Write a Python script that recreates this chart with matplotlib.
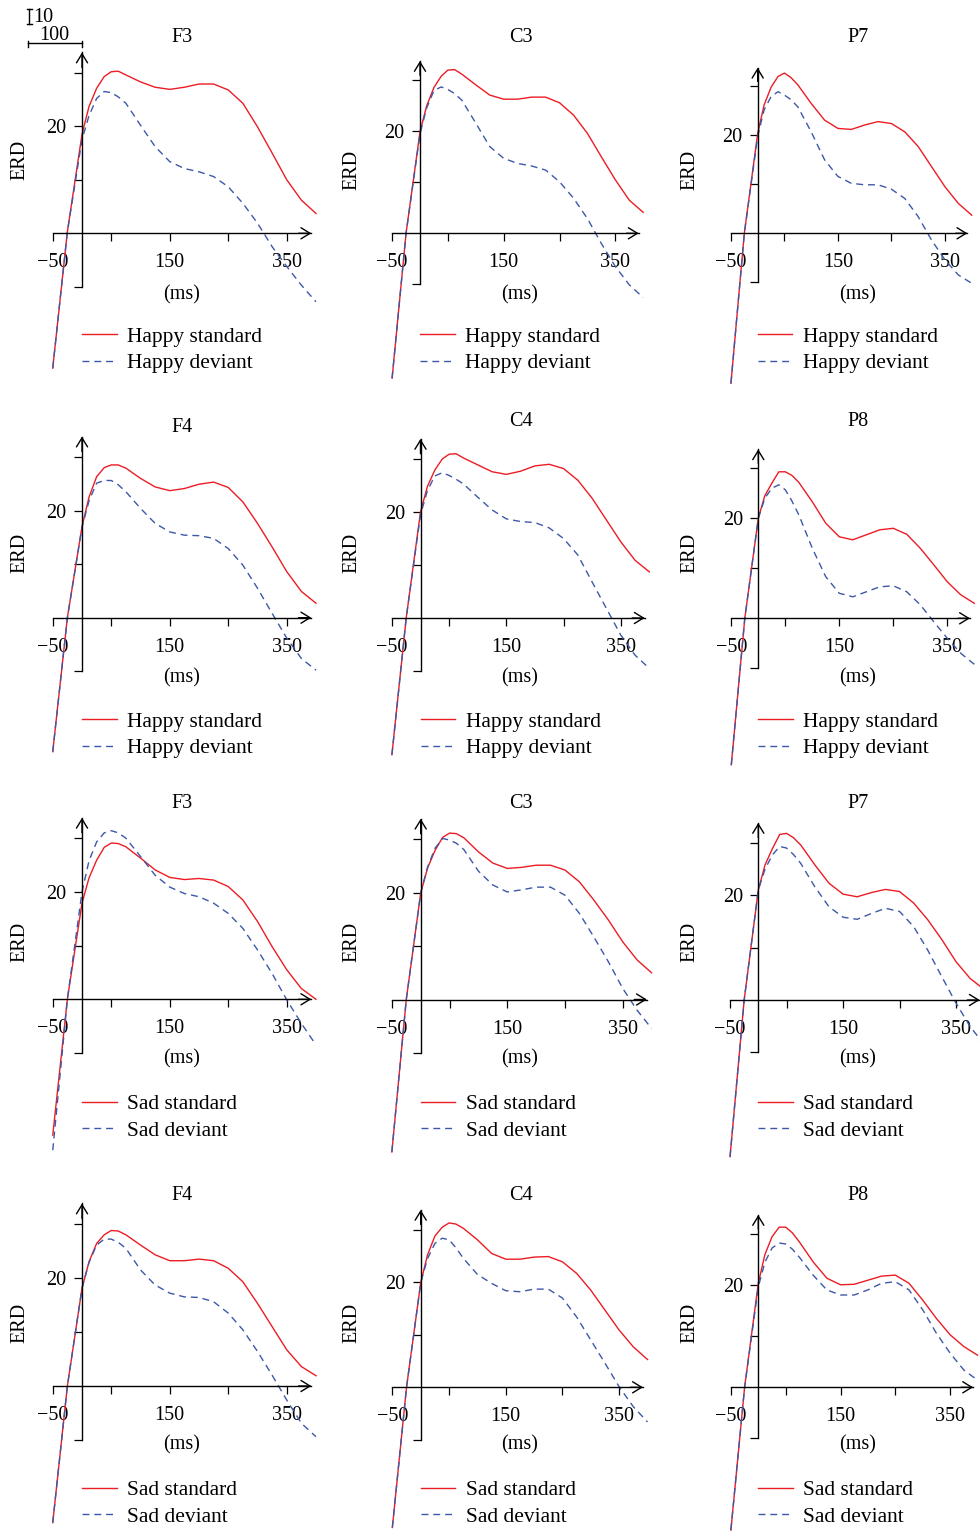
import matplotlib
matplotlib.use('Agg')
import matplotlib.pyplot as plt
from matplotlib.lines import Line2D

plt.rcParams['font.family'] = ['Liberation Serif', 'DejaVu Serif']

W, H = 980, 1533

# ---------------- data (ERD values) ----------------
times = [-50, -25, 0, 12, 25, 38, 50, 62, 75, 100, 125, 150, 175, 200, 225, 250, 275, 300, 325, 350, 375, 400]

channels = [["F3", "C3", "P7"], ["F4", "C4", "P8"], ["F3", "C3", "P7"], ["F4", "C4", "P8"]]
conditions = ["Happy", "Happy", "Sad", "Sad"]

happy_F3_std = [-25.2, 0.3, 18.5, 23.7, 27.1, 29.3, 30.2, 30.3, 29.6, 28.3, 27.3, 26.9, 27.3, 27.9, 27.9, 26.8, 24.3, 19.9, 15.0, 10.0, 6.2, 3.7]
happy_F3_dev = [-25.2, 0.3, 17.5, 22.0, 25.2, 26.5, 26.3, 25.5, 24.3, 20.2, 16.2, 13.4, 12.1, 11.5, 10.6, 8.7, 5.6, 1.9, -2.5, -6.2, -9.7, -12.8]
happy_C3_std = [-28.4, 0.0, 19.9, 25.0, 28.6, 30.8, 32.0, 32.1, 31.2, 29.1, 27.1, 26.3, 26.3, 26.7, 26.7, 25.6, 23.2, 19.6, 15.0, 10.5, 6.5, 4.1]
happy_C3_dev = [-28.4, 0.0, 19.5, 24.6, 28.0, 28.7, 28.2, 27.4, 26.1, 21.6, 17.0, 14.7, 13.7, 13.2, 12.4, 10.1, 6.9, 2.9, -2.0, -6.5, -10.1, -12.6]
happy_P7_std = [-30.6, 0.0, 20.4, 26.2, 29.8, 32.0, 32.7, 31.8, 30.3, 26.5, 23.1, 21.4, 21.2, 22.1, 22.8, 22.4, 20.7, 17.7, 13.6, 9.5, 6.1, 3.7]
happy_P7_dev = [-30.6, 0.0, 19.8, 25.2, 27.9, 28.9, 28.2, 27.3, 25.8, 20.7, 15.0, 11.6, 10.2, 9.9, 9.9, 9.0, 7.1, 3.4, -1.4, -5.4, -8.5, -10.2]
happy_F4_std = [-25.0, 0.0, 17.0, 22.5, 26.3, 28.0, 28.5, 28.5, 27.9, 26.0, 24.4, 23.7, 24.1, 24.9, 25.3, 24.3, 21.6, 17.6, 13.2, 8.6, 4.9, 2.7]
happy_F4_dev = [-25.0, 0.0, 16.9, 21.8, 25.1, 25.6, 25.6, 24.8, 23.5, 20.4, 17.6, 16.0, 15.4, 15.3, 14.8, 12.9, 9.8, 5.5, 0.8, -3.8, -7.6, -9.8]
happy_C4_std = [-25.8, 0.0, 20.0, 24.8, 27.9, 30.0, 30.9, 31.0, 30.2, 28.9, 27.6, 27.1, 27.7, 28.7, 29.0, 28.2, 26.0, 22.6, 18.5, 14.4, 10.9, 8.7]
happy_C4_dev = [-25.8, 0.0, 19.5, 24.0, 26.8, 27.4, 26.9, 26.2, 25.3, 22.8, 20.4, 18.7, 18.2, 18.0, 17.0, 15.0, 11.9, 6.8, 1.8, -3.2, -7.0, -9.5]
happy_P8_std = [-29.3, 0.0, 20.0, 24.5, 27.0, 29.3, 29.3, 28.6, 27.2, 23.3, 19.0, 16.3, 15.7, 16.7, 17.7, 18.0, 16.8, 14.0, 10.7, 7.3, 4.7, 3.0]
happy_P8_dev = [-29.3, 0.0, 20.0, 24.0, 26.0, 26.7, 25.7, 23.5, 20.7, 14.0, 8.3, 5.0, 4.3, 5.3, 6.3, 6.5, 5.3, 2.7, -0.7, -4.0, -7.0, -9.2]

sad_F3_std = [-25.3, 0.0, 17.9, 22.6, 25.9, 28.3, 29.1, 29.0, 28.4, 26.3, 24.1, 22.7, 22.3, 22.5, 22.2, 21.0, 18.5, 14.5, 9.8, 5.5, 2.0, 0.0]
sad_F3_dev = [-28.1, 0.0, 20.0, 25.8, 29.3, 31.0, 31.4, 31.0, 30.0, 26.6, 23.1, 20.9, 19.7, 19.1, 17.9, 16.0, 13.2, 9.2, 4.8, -0.1, -4.5, -8.5]
sad_C3_std = [-28.5, 0.0, 19.9, 24.6, 27.9, 30.3, 31.1, 31.0, 30.2, 27.6, 25.5, 24.5, 24.7, 25.1, 25.1, 24.2, 22.0, 18.6, 14.9, 10.8, 7.4, 5.0]
sad_C3_dev = [-28.5, 0.0, 19.9, 24.8, 28.3, 30.1, 29.8, 29.2, 28.0, 24.0, 21.4, 20.1, 20.5, 21.0, 21.0, 19.5, 16.1, 11.7, 7.1, 2.1, -2.0, -5.4]
sad_P7_std = [-29.9, 0.0, 21.0, 25.8, 28.9, 31.6, 31.8, 31.0, 29.6, 25.8, 22.3, 20.2, 19.7, 20.5, 21.1, 20.7, 18.5, 15.3, 11.5, 7.3, 4.1, 2.0]
sad_P7_dev = [-29.9, 0.0, 21.0, 25.0, 27.7, 29.3, 29.0, 27.8, 26.1, 21.6, 17.8, 15.8, 15.4, 16.5, 17.5, 16.9, 14.0, 9.5, 4.4, -0.6, -5.1, -8.5]
sad_F4_std = [-25.3, 0.0, 18.1, 23.0, 26.4, 28.0, 28.8, 28.7, 28.0, 26.1, 24.3, 23.2, 23.2, 23.5, 23.2, 21.8, 19.3, 15.3, 11.0, 6.7, 3.6, 1.9]
sad_F4_dev = [-25.3, 0.0, 18.1, 22.9, 26.1, 27.2, 27.2, 26.6, 25.5, 21.5, 18.7, 17.2, 16.5, 16.4, 15.6, 13.5, 10.4, 6.4, 2.0, -2.6, -6.9, -9.4]
sad_C4_std = [-26.7, 0.0, 19.9, 25.2, 28.8, 30.5, 31.3, 31.1, 30.3, 28.1, 25.5, 24.4, 24.4, 24.8, 24.9, 23.9, 21.7, 18.5, 14.7, 10.9, 7.7, 5.3]
sad_C4_dev = [-26.7, 0.0, 19.9, 24.5, 27.4, 28.4, 28.1, 26.6, 24.6, 21.5, 19.8, 18.4, 18.2, 18.7, 18.7, 17.0, 13.4, 9.0, 4.6, 0.1, -3.7, -6.6]
sad_P8_std = [-28.0, 0.0, 20.4, 26.0, 29.5, 31.4, 31.4, 30.3, 28.5, 24.6, 21.4, 20.1, 20.2, 21.0, 21.8, 22.0, 20.4, 17.1, 13.5, 10.3, 8.0, 6.3]
sad_P8_dev = [-28.0, 0.0, 19.7, 24.5, 27.3, 28.3, 28.1, 27.1, 25.5, 22.0, 19.1, 18.1, 18.1, 19.1, 20.4, 20.7, 19.1, 15.2, 10.6, 6.7, 3.4, 1.4]

series = [
    [(happy_F3_std, happy_F3_dev), (happy_C3_std, happy_C3_dev), (happy_P7_std, happy_P7_dev)],
    [(happy_F4_std, happy_F4_dev), (happy_C4_std, happy_C4_dev), (happy_P8_std, happy_P8_dev)],
    [(sad_F3_std, sad_F3_dev), (sad_C3_std, sad_C3_dev), (sad_P7_std, sad_P7_dev)],
    [(sad_F4_std, sad_F4_dev), (sad_C4_std, sad_C4_dev), (sad_P8_std, sad_P8_dev)],
]

xtick_vals = [-50, 50, 150, 250, 350]
xtick_labels = ["\u221250", "", "150", "", "350"]
ytick_vals = [-10, 10, 20, 30]
ytick_labels = ["", "", "20", ""]

# ---------------- layout (pixel geometry of each panel) ----------------
# origin x, origin y, px per 100 ms, px per 10 units
geom = [
    [(82, 233.3, 58.5, 53.5), (420, 233.3, 55.8, 51.0), (757.7, 233.3, 53.5, 49.0)],
    [(82, 617.7, 58.5, 53.6), (420.5, 618, 57.2, 53.0), (758.3, 618.3, 54.0, 50.0)],
    [(82, 999.3, 58.5, 53.7), (420.7, 999.5, 57.7, 53.5), (758.3, 1000, 56.5, 52.4)],
    [(82, 1386, 58.5, 54.0), (420.7, 1387.3, 56.7, 52.5), (758.3, 1387.3, 54.8, 51.0)],
]
title_y = [[37, 37, 37], [427, 422, 422], [803.5, 803.5, 803.5], [1195, 1195, 1195]]
title_x = [182, 521, 858]
erd_x = [20, 352, 690]
erd_y = [[160, 170, 170], [553, 553, 553], [941.5, 941.5, 941.5], [1323, 1323, 1323]]
ms_x = [182, 520, 858]
ms_y = [294.5, 677.5, 1059, 1444.5]
leg_y = [350, 735, 1117.5, 1503.5]

XL = (-60, 410)
YL = (-35, 37)

RED = '#ec1c24'
BLUE = '#3d58a8'
FS = 14.5
LFS = 15.4

fig = plt.figure(figsize=(W / 100, H / 100), dpi=100)


def fx(px):
    return px / W


def fy(py):
    return 1 - py / H


for r in range(4):
    for c in range(3):
        x0, y0, sx, sy = geom[r][c]
        left = x0 + XL[0] * sx / 100
        width = (XL[1] - XL[0]) * sx / 100
        top = y0 - YL[1] * sy / 10
        height = (YL[1] - YL[0]) * sy / 10
        ax = fig.add_axes([fx(left), fy(top + height), width / W, height / H])
        ax.set_facecolor('none')
        ax.set_xlim(*XL)
        ax.set_ylim(*YL)

        std, dev = series[r][c]
        cond = conditions[r]
        l1, = ax.plot(times, std, color=RED, lw=1.0, label=f"{cond} standard", clip_on=False,
                      solid_joinstyle='round')
        l2, = ax.plot(times, dev, color=BLUE, lw=1.0, dashes=(5, 3.5), label=f"{cond} deviant",
                      clip_on=False, dash_joinstyle='round')

        for s in ('top', 'right'):
            ax.spines[s].set_visible(False)
        ax.spines['left'].set_position(('data', 0))
        ax.spines['bottom'].set_position(('data', 0))
        ax.spines['left'].set_bounds(-10, 33.8)
        ax.spines['bottom'].set_bounds(-50, 392)
        for s in ('left', 'bottom'):
            ax.spines[s].set_linewidth(1.0)
            ax.spines[s].set_color('black')

        ax.set_xticks(xtick_vals)
        ax.set_xticklabels(xtick_labels)
        ax.set_yticks(ytick_vals)
        ax.set_yticklabels(ytick_labels)
        ax.tick_params(axis='both', direction='out', length=6, width=0.9, labelsize=FS, colors='black')
        ax.tick_params(axis='x', pad=8.5)
        ax.tick_params(axis='y', pad=5)

        arrow = dict(arrowstyle='->,head_length=0.65,head_width=0.4', lw=1.0, color='black',
                     shrinkA=0, shrinkB=0)
        ax.annotate('', xy=(392, 0), xytext=(370, 0), arrowprops=arrow, annotation_clip=False)
        ax.annotate('', xy=(0, 33.8), xytext=(0, 31), arrowprops=arrow, annotation_clip=False)

        fig.text(fx(title_x[c]), fy(title_y[r][c]), channels[r][c], ha='center', va='center', fontsize=FS)
        fig.text(fx(erd_x[c]), fy(erd_y[r][c]), "ERD", ha='center', va='center', rotation=90, fontsize=FS)
        fig.text(fx(ms_x[c]), fy(ms_y[r]), "(ms)", ha='center', va='center', fontsize=FS)

        fs_px = LFS * 100 / 72
        ax.legend(handles=[l1, l2], loc='center left', bbox_to_anchor=(fx(x0), fy(leg_y[r])),
                  bbox_transform=fig.transFigure, frameon=False, borderpad=0, borderaxespad=0,
                  handlelength=34.5 / fs_px, handletextpad=10.5 / fs_px, labelspacing=0.3,
                  fontsize=LFS)

# scale bar (top-left)
k = dict(color='black', lw=1.0, transform=fig.transFigure)
fig.add_artist(Line2D([fx(29), fx(29)], [fy(9), fy(24)], **k))
fig.add_artist(Line2D([fx(26.5), fx(31.5)], [fy(9), fy(9)], **k))
fig.add_artist(Line2D([fx(26.5), fx(31.5)], [fy(24), fy(24)], **k))
fig.add_artist(Line2D([fx(28.3), fx(82)], [fy(43.3), fy(43.3)], **k))
fig.add_artist(Line2D([fx(28.3), fx(28.3)], [fy(40.5), fy(46.5)], **k))
fig.add_artist(Line2D([fx(82), fx(82)], [fy(40.5), fy(46.5)], **k))
fig.text(fx(33), fy(17), "10", ha='left', va='center', fontsize=FS)
fig.text(fx(54), fy(35.5), "100", ha='center', va='center', fontsize=FS)

fig.savefig('out.png', dpi=100)
